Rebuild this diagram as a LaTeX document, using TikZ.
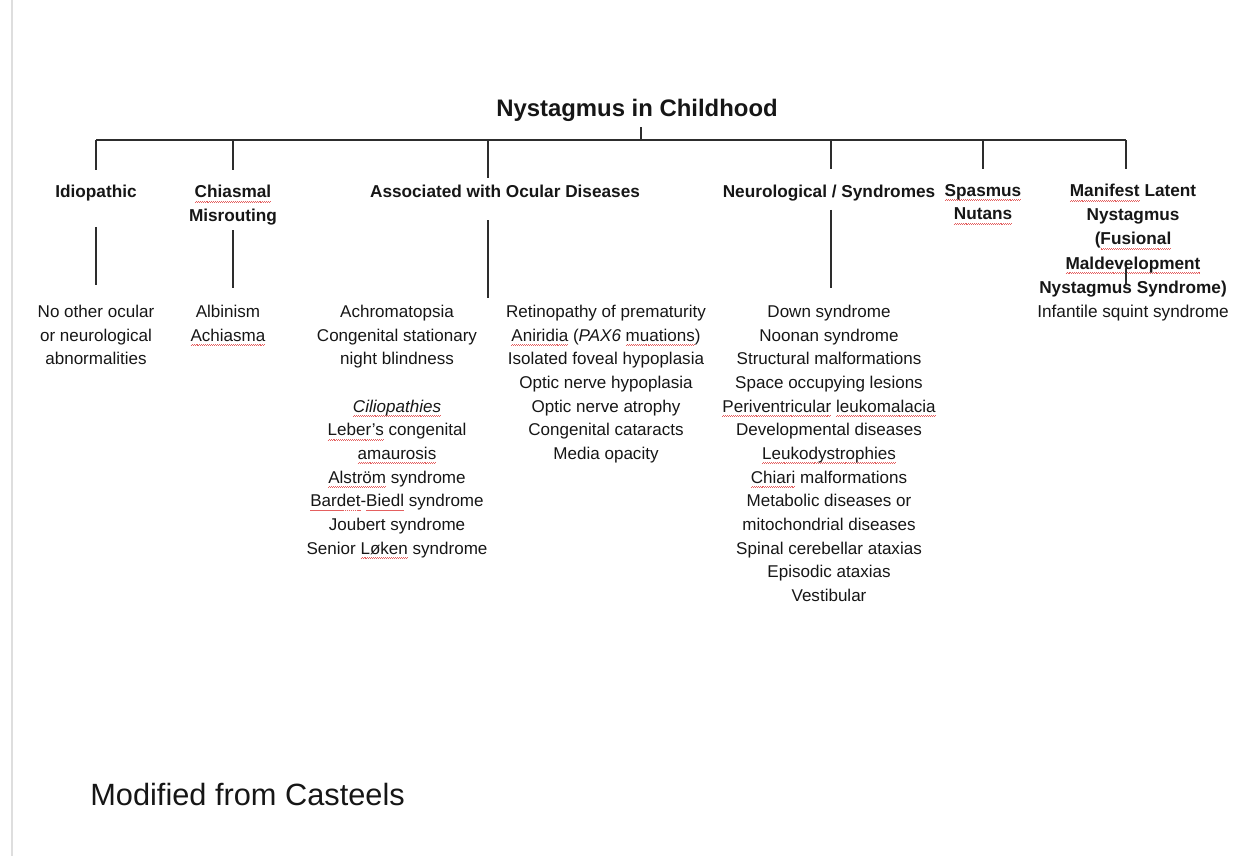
\documentclass[tikz,border=0pt]{standalone}
\usepackage{fontspec}
\setmainfont{Liberation Sans}
\usepackage{xcolor}
\usepackage{tikz}
\usetikzlibrary{
    positioning,
    calc
}
\definecolor{InkBlack}{RGB}{22,22,22}
\definecolor{LineGray}{RGB}{45,45,45}
\definecolor{EdgeGray}{RGB}{222,222,222}
\definecolor{WaveRed}{RGB}{228,96,96}
\newsavebox{\splbox}
\newcommand{\spl}[1]{\sbox{\splbox}{#1}\leavevmode\rlap{\textcolor{WaveRed}{\xleaders\hbox{\rule[-2.4pt]{0.55pt}{0.3pt}\rule[-1.95pt]{0.55pt}{0.3pt}}\hskip\wd\splbox}}\usebox{\splbox}}
\tikzset{
  head/.style  = {anchor=north, inner sep=0pt, align=center, text=InkBlack,
                  font=\fontsize{9.8}{13.4}\selectfont\bfseries},
  leaf/.style  = {anchor=north, inner sep=0pt, align=center, text=InkBlack,
                  font=\fontsize{9.7}{13.45}\selectfont},
  tline/.style = {draw=LineGray, line width=0.85pt}
}

\begin{document}
\begin{tikzpicture}[x=0.02cm, y=-0.02cm]
\useasboundingbox (0,0) rectangle (1243,856);
\draw[EdgeGray, line width=1.1pt] (12,0) -- (12,856);

% title and bus
\node[head, font=\fontsize{13.6}{16}\selectfont\bfseries] (title) at (637,99) {Nystagmus in Childhood};
\path (96,140) coordinate (t1) (233,140) coordinate (t2) (488,140) coordinate (t3)
      (831,140) coordinate (t4) (983,140) coordinate (t5) (1126,140) coordinate (t6);
\draw[tline] (t1) -- (t6);
\draw[tline] (title.south) ++(4,5) -- (t1 -| 641,0);
\foreach \t/\l in {t1/30, t2/30, t3/38, t4/29, t5/29, t6/29}
  \draw[tline] (\t) -- ++(0,\l);

% headings
\node[head] (idio)  at (96,185)  {Idiopathic};
\node[head] (chias) at (233,185) {\spl{Chiasmal}\\Misrouting};
\node[head] (assoc) at (505,185) {Associated with Ocular Diseases};
\node[head] (neuro) at (829,185) {Neurological / Syndromes};
\node[head] (spasm) at (983,184) {\spl{Spasmus}\\\spl{Nutans}};
\node[head, font=\fontsize{9.8}{13.7}\selectfont\bfseries] (manif) at (1133,184)
  {\spl{Manifest} Latent\\Nystagmus\\(\spl{Fusional}\\\spl{Maldevelopment}\\Nystagmus Syndrome)\\
   \mdseries Infantile squint syndrome};

% leaves
\node[leaf] (idleaf) at (96,305) {No other ocular\\or neurological\\abnormalities};
\node[leaf] (chleaf) at (228,305) {Albinism\\\spl{Achiasma}};
\node[leaf] (ocleft) at (397,305)
  {Achromatopsia\\Congenital stationary\\night blindness\\[13.45pt]
   \textit{\spl{Ciliopathies}}\\\spl{Leber's} congenital\\\spl{amaurosis}\\
   \spl{Alström} syndrome\\\spl{Bardet}-\spl{Biedl} syndrome\\Joubert syndrome\\
   Senior \spl{Løken} syndrome};
\node[leaf] (ocright) at (606,305)
  {Retinopathy of prematurity\\\spl{Aniridia} (\textit{PAX6} \spl{muations})\\
   Isolated foveal hypoplasia\\Optic nerve hypoplasia\\Optic nerve atrophy\\
   Congenital cataracts\\Media opacity};
\node[leaf] (neleaf) at (829,305)
  {Down syndrome\\Noonan syndrome\\Structural malformations\\Space occupying lesions\\
   \spl{Periventricular} \spl{leukomalacia}\\Developmental diseases\\\spl{Leukodystrophies}\\
   \spl{Chiari} malformations\\Metabolic diseases or\\mitochondrial diseases\\
   Spinal cerebellar ataxias\\Episodic ataxias\\Vestibular};

% links to leaves
\draw[tline] (idio.south) ++(0,25) -- ++(0,58);
\draw[tline] (chias.south) ++(0,5) -- ++(0,58);
\draw[tline] (assoc.south -| t3) ++(0,22) -- ++(0,78);
\draw[tline] (neuro.south -| t4) ++(0,8) -- ++(0,78);
\draw[tline] (manif.north -| t6) ++(0,84) -- ++(0,16);

\node[anchor=west, inner sep=0pt, text=InkBlack, font=\fontsize{17.5}{20}\selectfont]
  (source) at (90,794) {Modified from Casteels};
\end{tikzpicture}
\end{document}
